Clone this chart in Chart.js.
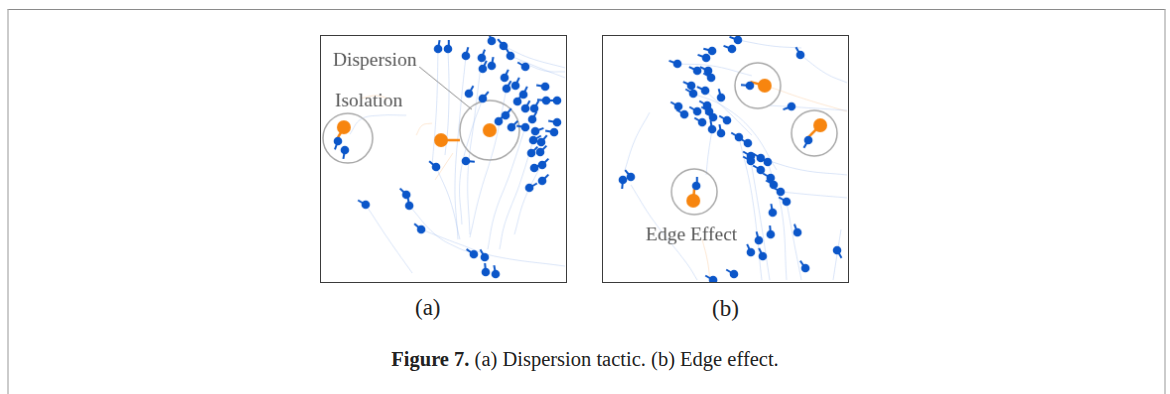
<!DOCTYPE html>
<html>
<head>
<meta charset="utf-8">
<script src="https://cdn.jsdelivr.net/npm/chart.js@4.4.0/dist/chart.umd.min.js"></script>
<style>
    body { margin: 0; background: #fff; width: 1170px; height: 394px; overflow: hidden; position: relative; }
    #frame { position: absolute; left: 7px; top: 9px; width: 1155px; height: 400px;
             border-top: 1.5px solid #8a8a8a; border-left: 2px solid #cbcbcb; border-right: 2px solid #cbcbcb; }
    canvas.panel { position: absolute; border: 1.5px solid #3a3a3a; }
    .sub { position: absolute; font-family: 'Liberation Serif', serif; font-size: 23px; color: #222; }
    #caption { position: absolute; left: 0; width: 1170px; top: 348px; text-align: center;
               font-family: 'Liberation Serif', serif; font-size: 20.5px; color: #222; }
</style>
</head>
<body>
<div id="frame"></div>
<canvas id="chartA" class="panel" width="247" height="248" style="left:320px;top:35px"></canvas>
<canvas id="chartB" class="panel" width="247" height="248" style="left:602px;top:35px"></canvas>
<div class="sub" style="left:415px;top:295px">(a)</div>
<div class="sub" style="left:712px;top:296px">(b)</div>
<div id="caption"><b>Figure 7.</b> (a) Dispersion tactic. (b) Edge effect.</div>
<script>
'use strict';

// arena size in pixels of the panel
const ARENA_W = 247;
const ARENA_H = 248;

// ---- panel (a): dispersion ----
const blueAx = [118, 128, 146, 162, 172, 184, 191, 163, 172, 206, 185, 187, 196, 226, 149, 163, 204, 198, 206, 215,
                227, 238, 179, 186, 192, 206, 213, 238, 216, 235, 214, 222, 212, 221, 146, 116, 215, 223, 223, 210,
                17, 24, 45, 86, 89, 101, 154, 165, 166, 176];
const blueAy = [13, 13, 20, 22, 5, 10, 20, 33, 30, 31, 42, 53, 50, 51, 58, 63, 59, 66, 73, 73,
                65, 65, 86, 80, 92, 92, 84, 87, 96, 97, 105, 107, 118, 117, 126, 132, 133, 130, 146, 153,
                106, 115, 170, 160, 171, 195, 220, 223, 238, 240];
const blueAheading = [80, 85, 75, 70, 110, 130, 120, 65, 80, 150, 65, 60, 65, 170, 60, 50, 65, 60, 60, 60,
                      175, 180, 50, 50, 45, 170, 60, 170, 20, 170, 30, 50, 45, 45, -5, 140, 30, 45, 45, 30,
                      250, 260, 150, 135, 100, 140, 145, 120, 95, 100];
const orangeAx = [23, 121, 170];
const orangeAy = [92, 105, 95];
const orangeAheading = [240, 0, 225];
const orangeAlen = [12, 19, 0];
const circleAx = [27, 170];
const circleAy = [103, 95];
const circleAr = [25, 30];
const trailsA = [
    [[45, 170], [68, 205], [92, 239]],
    [[89, 171], [115, 200], [139, 214], [154, 219]],
    [[101, 195], [140, 210], [175, 222], [246, 232]],
    [[118, 13], [117, 60], [115, 95], [112, 130]],
    [[128, 13], [129, 50], [128, 90], [125, 120]],
    [[146, 20], [140, 80], [135, 150], [138, 205]],
    [[162, 22], [155, 80], [148, 140], [150, 200]],
    [[187, 53], [175, 110], [160, 160], [150, 203]],
    [[206, 92], [190, 140], [175, 180], [168, 215]],
    [[214, 105], [200, 150], [185, 190], [180, 215]],
    [[222, 130], [205, 165], [195, 200]],
    [[184, 10], [210, 22], [246, 32]],
    [[191, 20], [220, 32], [246, 42]],
    [[200, 25], [225, 35], [246, 36]],
    [[29, 99], [40, 84], [60, 80], [86, 80]],
    [[163, 63], [150, 100], [140, 145], [142, 190]],
    [[116, 132], [130, 165], [140, 205]]
];
const orangeTrailsA = [
    [[96, 100], [102, 90], [112, 88]],
    [[115, 145], [125, 130], [133, 118]],
    [[40, 63], [55, 60], [68, 63]]
];
const labelsA = ['Dispersion', 'Isolation'];
const labelAx = [12, 14];
const labelAy = [24.5, 65.5];
const leaderA = [[99, 31], [152, 74]];

// ---- panel (b): edge effect ----
const blueBx = [136, 130, 110, 104, 75, 95, 106, 109, 199, 89, 91, 103, 119, 148, 190, 76, 82, 95, 105, 107,
                111, 100, 125, 110, 119, 137, 146, 149, 149, 159, 166, 159, 169, 172, 179, 185, 207, 20, 28, 94,
                171, 169, 157, 196, 149, 161, 236, 204, 132, 111];
const blueBy = [4, 13, 15, 22, 28, 35, 35, 42, 19, 50, 58, 55, 62, 50, 71, 71, 79, 76, 70, 76,
                82, 87, 85, 94, 98, 102, 108, 121, 126, 123, 127, 135, 143, 150, 157, 167, 105, 145, 142, 151,
                178, 200, 206, 198, 218, 222, 216, 234, 240, 246];
const blueBheading = [160, 160, 165, 160, 160, 155, 155, 150, 120, 155, 150, 155, 105, 175, 200, 150, 150, 150, 150, 150,
                      150, 150, 150, 100, 100, 150, 150, 150, 150, 150, 150, 150, 150, 150, 150, 150, 240, 265, 130, 85,
                      100, 95, 105, 110, 115, 115, 300, 125, 150, 150];
const orangeBx = [163, 219, 91];
const orangeBy = [50, 90, 166];
const orangeBheading = [165, 225, 85];
const orangeBlen = [15, 17, 12];
const circleBx = [156, 213, 92];
const circleBy = [50, 98, 157];
const circleBr = [23, 23, 23];
const trailsB = [
    [[47, 77], [32, 105], [22, 135]],
    [[110, 94], [106, 120], [104, 140]],
    [[149, 126], [158, 180], [168, 246]],
    [[137, 102], [150, 160], [160, 246]],
    [[185, 167], [192, 205], [200, 246]],
    [[166, 127], [180, 175], [185, 246]],
    [[166, 70], [200, 72], [246, 75]],
    [[158, 123], [200, 135], [246, 140]],
    [[179, 157], [210, 160], [246, 163]],
    [[199, 19], [225, 38], [246, 47]],
    [[240, 195], [236, 220], [232, 246]],
    [[75, 28], [110, 30], [150, 40]],
    [[91, 58], [120, 70], [150, 95], [175, 135]],
    [[103, 55], [130, 80], [150, 100]],
    [[28, 150], [50, 185], [85, 230], [95, 246]],
    [[136, 4], [170, 10], [200, 12]]
];
const orangeTrailsB = [
    [[170, 52], [205, 64], [246, 76]],
    [[100, 205], [105, 225], [108, 246]]
];
const labelsB = ['Edge Effect'];
const labelBx = [43];
const labelBy = [201];
const leaderB = [];

const BLUE = '#0b56c9';
const ORANGE = '#f7850f';
const TRAIL = 'rgba(140, 175, 232, 0.32)';
const ORANGE_TRAIL = 'rgba(245, 150, 60, 0.22)';
const HEAD_LEN = 9;

function toPoints(xs, ys) {
    return xs.map((x, i) => ({ x: x, y: ys[i] }));
}

// short heading lines, one dataset per segment
function headingSets(xs, ys, angles, lens, color, width) {
    return xs.map((x, i) => {
        const len = Array.isArray(lens) ? lens[i] : lens;
        const a = angles[i] * Math.PI / 180;
        return {
            data: [{ x: x, y: ys[i] }, { x: x + len * Math.cos(a), y: ys[i] - len * Math.sin(a) }],
            showLine: true,
            borderColor: color,
            borderWidth: width,
            pointRadius: 0,
            order: 3
        };
    });
}

function trailSets(trails, color) {
    return trails.map(t => ({
        data: t.map(p => ({ x: p[0], y: p[1] })),
        showLine: true,
        borderColor: color,
        borderWidth: 1,
        tension: 0.4,
        pointRadius: 0,
        order: 5
    }));
}

// text labels and leader lines placed in data coordinates
const labelPlugin = {
    id: 'labels',
    afterDatasetsDraw(chart, args, opts) {
        const ctx = chart.ctx;
        const xs = chart.scales.x, ys = chart.scales.y;
        ctx.save();
        if (opts.leader && opts.leader.length) {
            ctx.strokeStyle = '#8c8c8c';
            ctx.lineWidth = 1;
            ctx.beginPath();
            ctx.moveTo(xs.getPixelForValue(opts.leader[0][0]), ys.getPixelForValue(opts.leader[0][1]));
            ctx.lineTo(xs.getPixelForValue(opts.leader[1][0]), ys.getPixelForValue(opts.leader[1][1]));
            ctx.stroke();
        }
        ctx.fillStyle = '#555';
        ctx.font = '19.5px "Liberation Serif", serif';
        ctx.textBaseline = 'middle';
        ctx.textAlign = 'left';
        opts.texts.forEach((t, i) => {
            ctx.fillText(t, xs.getPixelForValue(opts.tx[i]), ys.getPixelForValue(opts.ty[i]));
        });
        ctx.restore();
    }
};

function makePanel(id, p) {
    const datasets = [].concat(
        trailSets(p.trails, TRAIL),
        trailSets(p.orangeTrails, ORANGE_TRAIL),
        headingSets(p.bx, p.by, p.bh, HEAD_LEN, BLUE, 2),
        headingSets(p.ox, p.oy, p.oh, p.ol, ORANGE, 2.5),
        [{
            data: toPoints(p.bx, p.by),
            backgroundColor: BLUE,
            borderWidth: 0,
            pointRadius: 4.3,
            order: 2
        }, {
            data: toPoints(p.ox, p.oy),
            backgroundColor: ORANGE,
            borderWidth: 0,
            pointRadius: 7,
            order: 1
        }, {
            data: toPoints(p.cx, p.cy),
            backgroundColor: 'rgba(0,0,0,0)',
            borderColor: '#a9a9a9',
            borderWidth: 1.5,
            pointRadius: p.cr,
            order: 4
        }]
    );

    new Chart(document.getElementById(id), {
        type: 'scatter',
        data: { datasets: datasets },
        options: {
            responsive: false,
            animation: false,
            devicePixelRatio: 1,
            layout: { padding: 0, autoPadding: false },
            scales: {
                x: { type: 'linear', min: 0, max: ARENA_W, display: false },
                y: { type: 'linear', min: 0, max: ARENA_H, reverse: true, display: false }
            },
            plugins: {
                legend: { display: false },
                tooltip: { enabled: false },
                labels: { texts: p.labels, tx: p.lx, ty: p.ly, leader: p.leader }
            }
        },
        plugins: [labelPlugin]
    });
}

document.addEventListener('DOMContentLoaded', () => {
    makePanel('chartA', {
        bx: blueAx, by: blueAy, bh: blueAheading,
        ox: orangeAx, oy: orangeAy, oh: orangeAheading, ol: orangeAlen,
        cx: circleAx, cy: circleAy, cr: circleAr,
        trails: trailsA, orangeTrails: orangeTrailsA,
        labels: labelsA, lx: labelAx, ly: labelAy, leader: leaderA
    });
    makePanel('chartB', {
        bx: blueBx, by: blueBy, bh: blueBheading,
        ox: orangeBx, oy: orangeBy, oh: orangeBheading, ol: orangeBlen,
        cx: circleBx, cy: circleBy, cr: circleBr,
        trails: trailsB, orangeTrails: orangeTrailsB,
        labels: labelsB, lx: labelBx, ly: labelBy, leader: leaderB
    });
});
</script>
</body>
</html>
